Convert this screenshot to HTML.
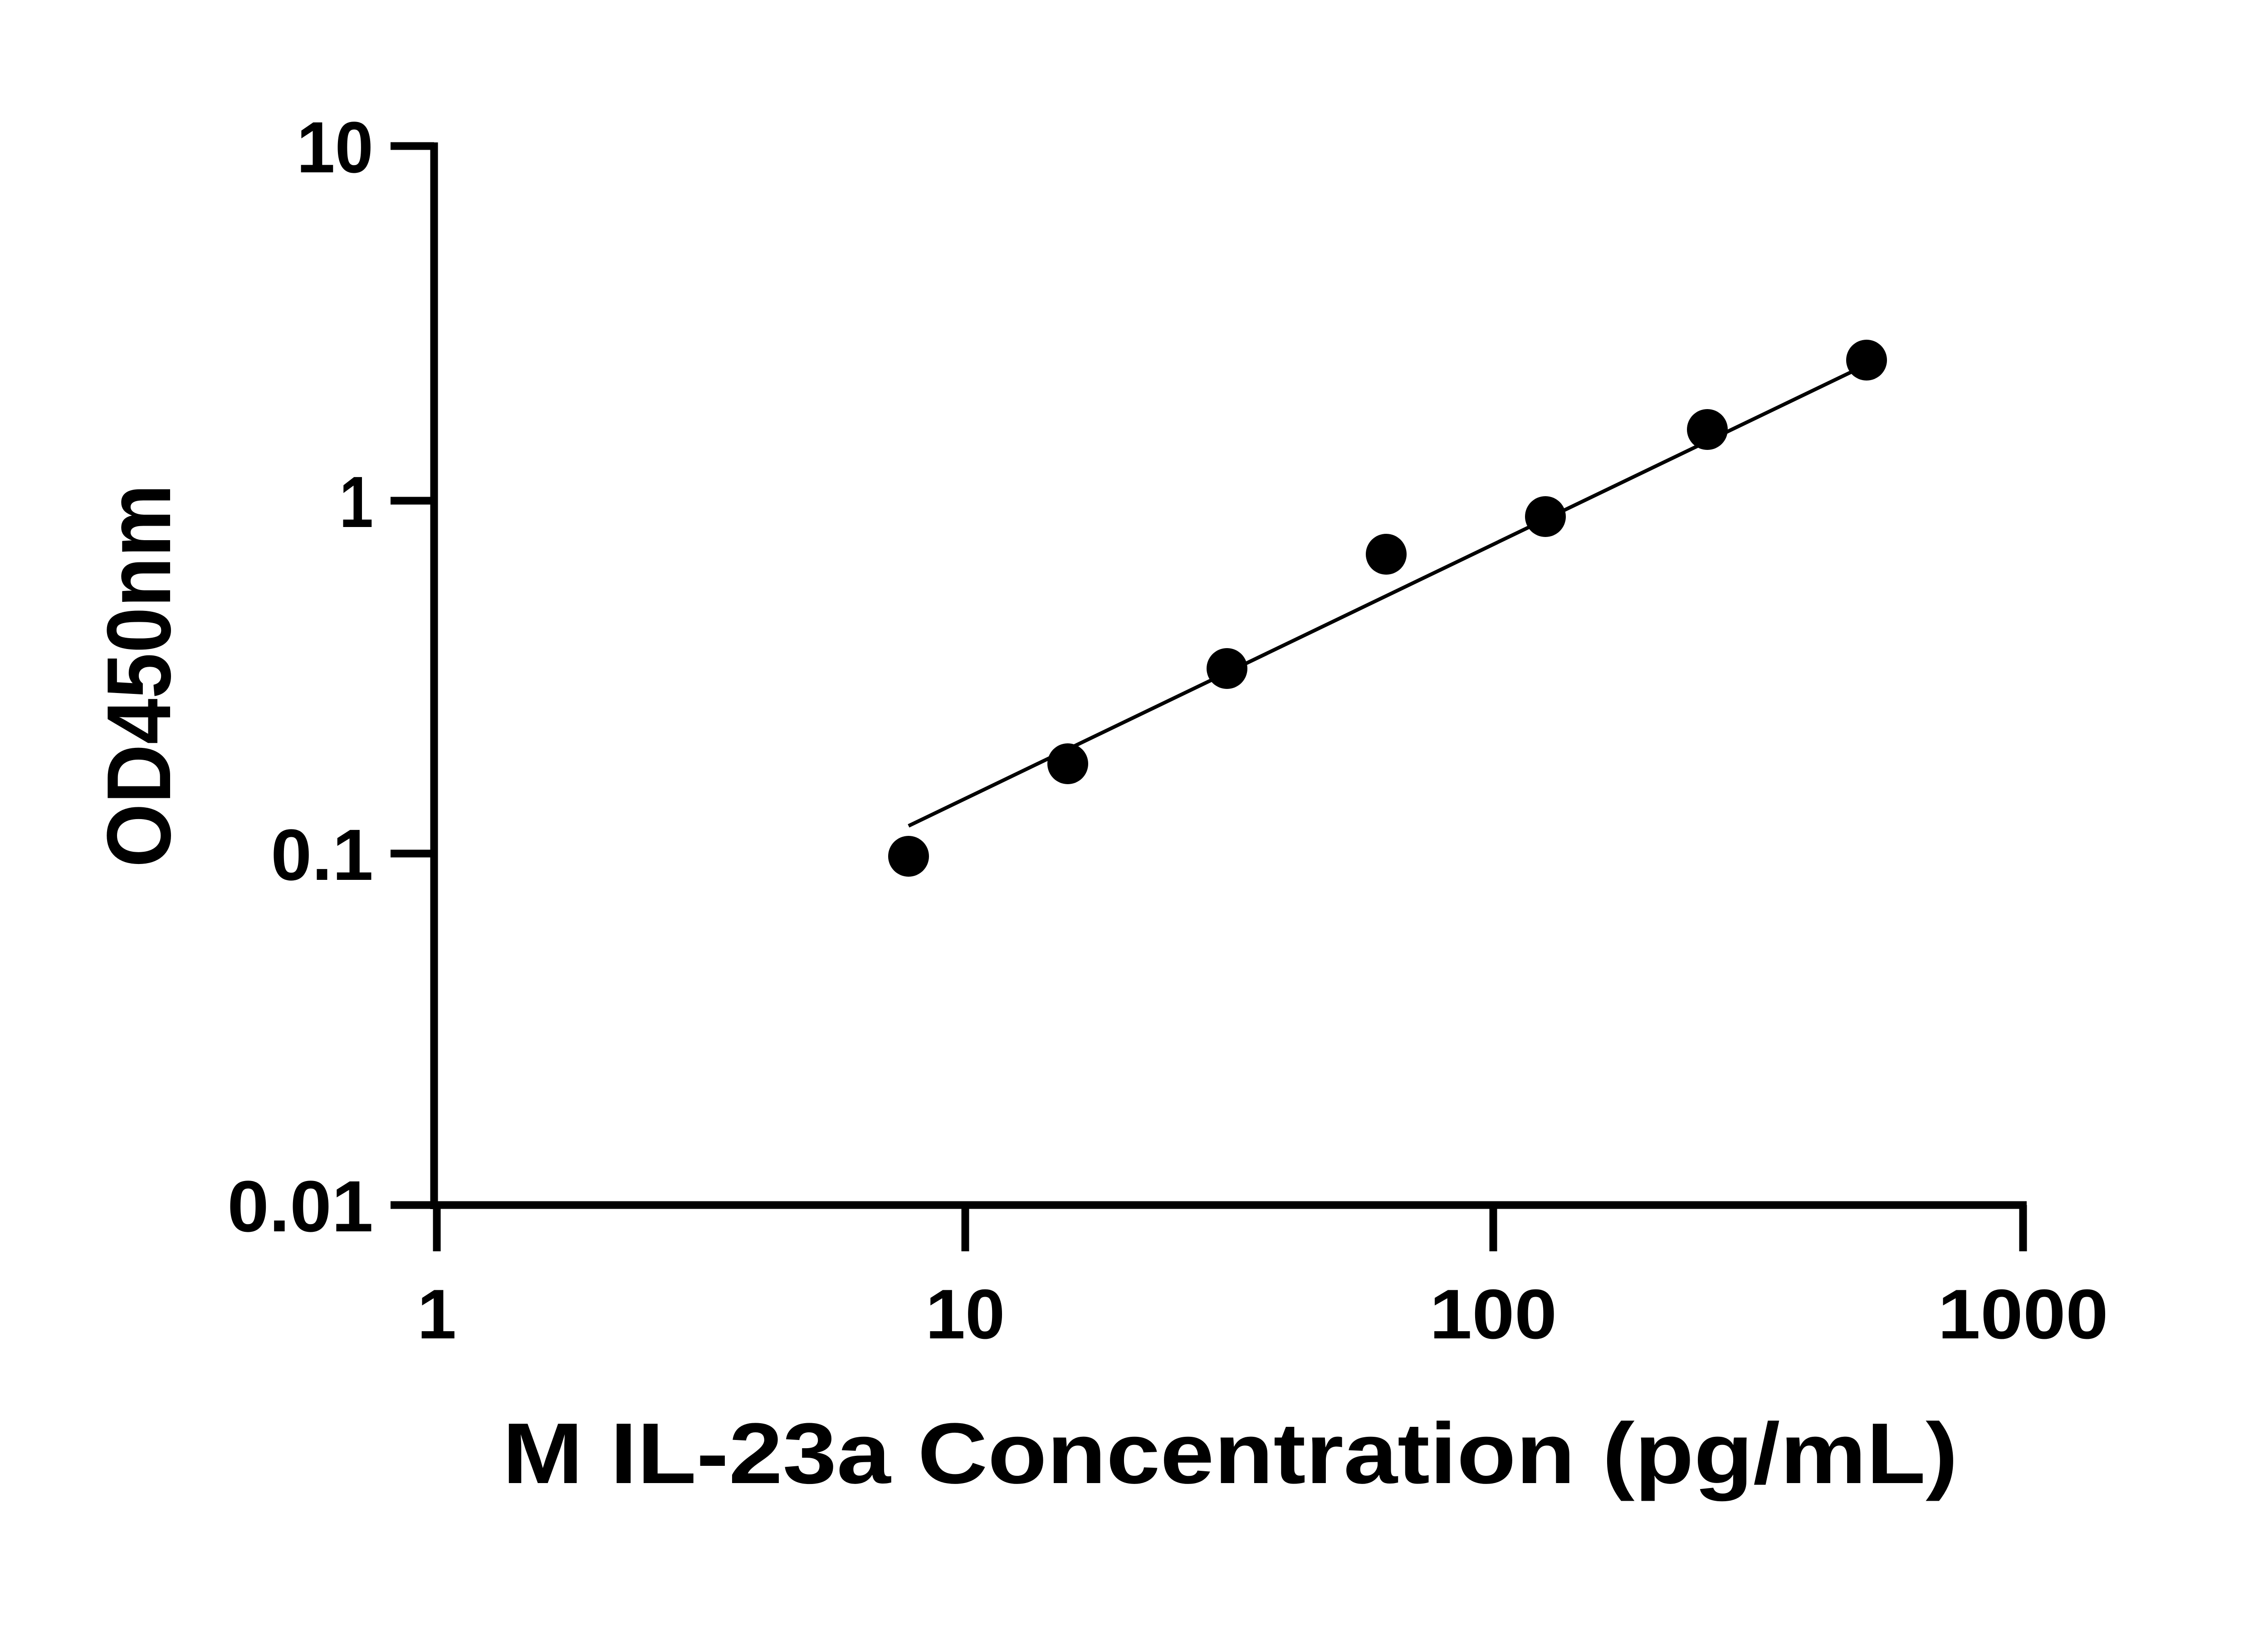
<!DOCTYPE html>
<html><head><meta charset="utf-8"><style>body{margin:0;background:#fff}</style></head><body>
<svg width="5142" height="3600" xmlns="http://www.w3.org/2000/svg" font-family="Liberation Sans, sans-serif" font-weight="bold">
<rect width="5142" height="3600" fill="#fff"/>
<g stroke="#000" stroke-width="17" fill="none">
<line x1="957" y1="314" x2="957" y2="2666"/>
<line x1="949" y1="2657" x2="4468" y2="2657"/>
<line x1="861" y1="322" x2="957" y2="322"/>
<line x1="861" y1="1104" x2="957" y2="1104"/>
<line x1="861" y1="1882" x2="957" y2="1882"/>
<line x1="861" y1="2657" x2="957" y2="2657"/>
<line x1="963" y1="2657" x2="963" y2="2759"/>
<line x1="2128" y1="2657" x2="2128" y2="2759"/>
<line x1="3292" y1="2657" x2="3292" y2="2759"/>
<line x1="4460" y1="2657" x2="4460" y2="2759"/>
</g>
<line x1="2003" y1="1821" x2="4115" y2="804" stroke="#000" stroke-width="8"/>
<g fill="#000">
<circle cx="2003" cy="1888" r="45"/><circle cx="2354" cy="1684" r="45"/><circle cx="2705" cy="1474" r="45"/><circle cx="3056" cy="1222" r="45"/><circle cx="3407" cy="1139" r="45"/><circle cx="3764" cy="947" r="45"/><circle cx="4115" cy="794" r="45"/>
</g>
<g font-size="160" text-anchor="end">
<text x="823" y="380" textLength="169" lengthAdjust="spacingAndGlyphs">10</text>
<text x="823" y="1162" textLength="75" lengthAdjust="spacingAndGlyphs">1</text>
<text x="823" y="1940" textLength="226" lengthAdjust="spacingAndGlyphs">0.1</text>
<text x="823" y="2715" textLength="322" lengthAdjust="spacingAndGlyphs">0.01</text>
</g>
<g font-size="155" text-anchor="middle">
<text x="963" y="2951">1</text>
<text x="2128" y="2951" textLength="175" lengthAdjust="spacingAndGlyphs">10</text>
<text x="3292" y="2951" textLength="281" lengthAdjust="spacingAndGlyphs">100</text>
<text x="4460" y="2951" textLength="376" lengthAdjust="spacingAndGlyphs">1000</text>
</g>
<text x="2712" y="3270" font-size="190" text-anchor="middle" textLength="3209" lengthAdjust="spacingAndGlyphs">M IL-23a Concentration (pg/mL)</text>
<text transform="translate(375,1490) rotate(-90)" font-size="200" text-anchor="middle" textLength="845" lengthAdjust="spacingAndGlyphs">OD450nm</text>
</svg>
</body></html>
